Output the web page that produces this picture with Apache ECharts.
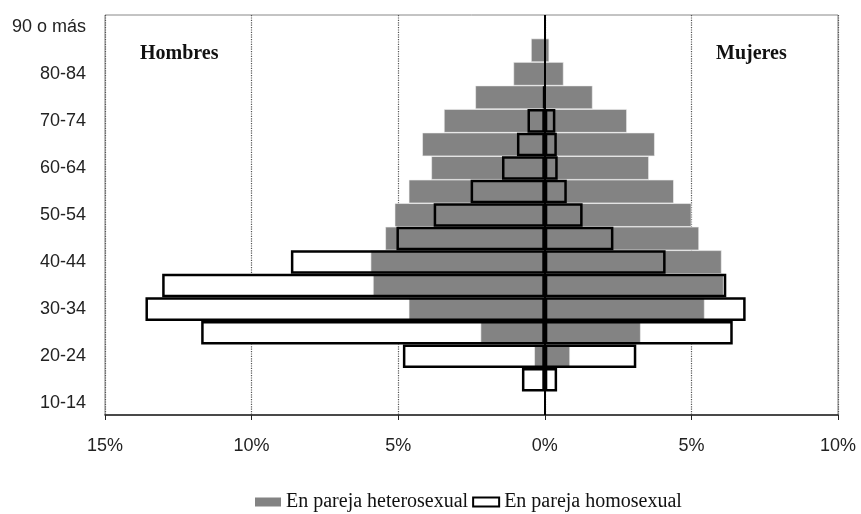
<!DOCTYPE html>
<html>
<head>
<meta charset="utf-8">
<script src="https://cdn.jsdelivr.net/npm/echarts@6/dist/echarts.min.js"></script>
<style>html,body{margin:0;padding:0;background:#fff;}#c{width:861px;height:514px;}</style>
</head>
<body>
<div id="c"></div>
<script>
var categories = ['10-14','15-19','20-24','25-29','30-34','35-39','40-44','45-49','50-54','55-59','60-64','65-69','70-74','75-79','80-84','85-89','90 o más'];
var heteroMen   = [0, 0, -0.36, -2.19, -4.64, -5.86, -5.94, -5.44, -5.12, -4.64, -3.87, -4.18, -3.44, -2.37, -1.07, -0.47, 0];
var heteroWomen = [0, 0, 0.86, 3.27, 5.45, 6.10, 6.03, 5.26, 5.00, 4.40, 3.55, 3.75, 2.80, 1.63, 0.64, 0.15, 0];
var homoMen     = [0, -0.78, -4.84, -11.72, -13.62, -13.05, -8.66, -5.06, -3.79, -2.53, -1.46, -0.95, -0.59, -0.05, 0, 0, 0];
var homoWomen   = [0, 0.42, 3.12, 6.41, 6.85, 6.19, 4.12, 2.34, 1.29, 0.75, 0.44, 0.41, 0.36, 0, 0, 0, 0];
var xTicks = {min: -15, max: 10, step: 5};
var heteroName = 'En pareja heterosexual';
var homoName = 'En pareja homosexual';

function nz(arr){ return arr.map(function(v){ return v === 0 ? '-' : v; }); }

var chart = echarts.init(document.getElementById('c'), null, {renderer: 'canvas'});
var base = {type: 'bar', barGap: '-100%', barCategoryGap: '0%', silent: true};
function mk(name, data, style, z, extra){
  var s = Object.assign({}, base, {name: name, data: data, itemStyle: style, z: z});
  return Object.assign(s, extra || {});
}
var fillStyle = {color: '#ffffff'};
var grayStyle = {color: '#838383', borderColor: '#f4f4f4', borderWidth: 0.6};
var borderStyle = {color: 'rgba(0,0,0,0)', borderColor: '#000', borderWidth: 2.5};

chart.setOption({
  animation: false,
  backgroundColor: '#fff',
  grid: {left: 105, right: 23, top: 15, bottom: 99, show: true, borderColor: '#888', borderWidth: 1, backgroundColor: 'transparent'},
  xAxis: {
    type: 'value', min: xTicks.min, max: xTicks.max, interval: xTicks.step,
    axisLine: {show: true, onZero: false, lineStyle: {color: '#222', width: 1.5}},
    axisTick: {show: true, length: 5, lineStyle: {color: '#222'}},
    axisLabel: {margin: 22, fontSize: 18, color: '#222', fontFamily: 'Liberation Sans, DejaVu Sans, sans-serif',
      formatter: function(v){ return Math.abs(v) + '%'; }},
    splitLine: {show: true, lineStyle: {type: 'dotted', color: '#555', width: 1.2}}
  },
  yAxis: {
    type: 'category', data: categories,
    axisLine: {show: false}, axisTick: {show: false},
    axisLabel: {interval: 1, margin: 19, fontSize: 18, color: '#222', fontFamily: 'Liberation Sans, DejaVu Sans, sans-serif'}
  },
  legend: {
    left: 250, top: 487, itemWidth: 26, itemHeight: 9, itemGap: 4, padding: 5,
    textStyle: {fontFamily: 'Liberation Serif, Times New Roman, serif', fontSize: 20, color: '#111'},
    selectedMode: false,
    data: [
      {name: heteroName, icon: 'rect', itemStyle: {color: '#838383', borderWidth: 0}},
      {name: homoName, icon: 'rect', itemStyle: {color: '#fff', borderColor: '#000', borderWidth: 2}}
    ]
  },
  graphic: [
    {type: 'text', left: 140, top: 44, style: {text: 'Hombres', font: 'bold 20px "Liberation Serif", serif', fill: '#111'}},
    {type: 'text', left: 716, top: 44, style: {text: 'Mujeres', font: 'bold 20px "Liberation Serif", serif', fill: '#111'}}
  ],
  series: [
    mk(homoName, homoMen, fillStyle, 2),
    mk(homoName, homoWomen, fillStyle, 2),
    mk(heteroName, heteroMen, grayStyle, 3),
    mk(heteroName, heteroWomen, grayStyle, 3),
    mk(homoName, nz(homoMen), borderStyle, 4),
    mk(homoName, nz(homoWomen), borderStyle, 4, {
      markLine: {silent: true, symbol: 'none', label: {show: false}, z: 10,
        lineStyle: {color: '#000', width: 2, type: 'solid'}, data: [{xAxis: 0}]}
    })
  ]
});
</script>
</body>
</html>
